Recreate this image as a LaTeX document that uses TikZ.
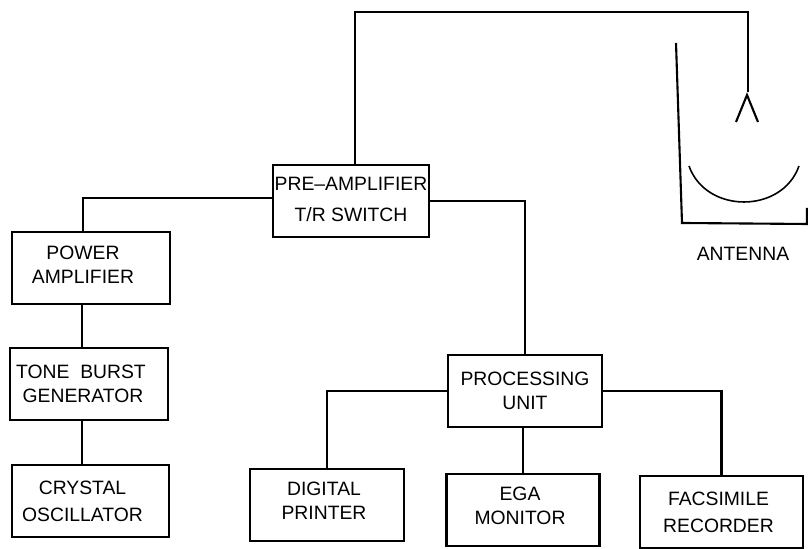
\documentclass[tikz,border=0pt]{standalone}
\usepackage{fontspec}
\setmainfont{Liberation Sans}
\usepackage{tikz}
\usetikzlibrary{
	positioning,
	calc
}
\tikzset{
	unit/.style={draw,line width=1.2pt,inner sep=0pt,align=center,minimum height=1.44cm,font=\fontsize{11}{13.4}\selectfont},
	wire/.style={line width=1.2pt}
}
\newcommand{\nudge}[1]{\hspace*{#1}}

\begin{document}
\begin{tikzpicture}[scale=1]
		
		\useasboundingbox (0,0) rectangle (16.16,10.98);
		
		%---------------- Transmit chain ----------------%
		
		\node[unit,minimum width=3.12cm,text depth=0.06cm] (pre) at (7.02,6.96)
		{PRE--AMPLIFIER\\[4pt]T/R SWITCH};
		
		\node[unit,minimum width=3.16cm,text depth=0.14cm] (power) at (1.82,5.62)
		{POWER\nudge{.32cm}\\AMPLIFIER\nudge{.32cm}};
		
		\node[unit,minimum width=3.16cm] (tone) at (1.78,3.30)
		{TONE\ \ BURST\nudge{.32cm}\\GENERATOR\nudge{.24cm}};
		
		\node[unit,minimum width=3.14cm] (crystal) at (1.81,0.96)
		{CRYSTAL\nudge{.32cm}\\[2pt]OSCILLATOR\nudge{.32cm}};
		
		\coordinate (pwrcorner) at (1.66,7.02);
		\coordinate (txline) at (1.64,0);
		
		\draw[wire] (pre.west |- pwrcorner)--(pwrcorner)--(power.north -| pwrcorner);
		\draw[wire] (power.south -| txline)--(tone.north -| txline);
		\draw[wire] (tone.south -| txline)--(crystal.north -| txline);
		
		%---------------- Processing ----------------%
		
		\node[unit,minimum width=3.08cm] (proc) at (10.50,3.16)
		{PROCESSING\\UNIT};
		
		\node[unit,minimum width=3.08cm,text depth=0.16cm] (digital) at (6.54,0.88)
		{DIGITAL\nudge{.12cm}\\PRINTER\nudge{.12cm}};
		
		\node[unit,minimum width=3.06cm,text depth=0.16cm] (ega) at (10.46,0.78)
		{EGA\nudge{.12cm}\\MONITOR\nudge{.12cm}};
		
		\node[unit,minimum width=3.26cm] (facs) at (14.43,0.74)
		{FACSIMILE\nudge{.12cm}\\[2pt]RECORDER\nudge{.12cm}};
		
		\draw[wire] (pre.east) -| (proc.north);
		\draw[wire] (proc.west) -| (digital.north);
		\draw[wire] (proc.south -| ega.north)--(ega.north);
		\draw[wire] (proc.east) -| (facs.north);
		
		%---------------- Antenna ----------------%
		
		\coordinate (feedtop) at (7.10,10.74);
		\coordinate (hornapex) at (14.96,9.14);
		
		\draw[wire] (pre.north -| feedtop)--(feedtop) -| (hornapex);
		\draw[wire] (14.72,8.54)--(14.94,9.08)--(15.16,8.54);
		
		\draw[line width=0.9pt] (13.78,7.66) .. controls (14.12,6.70) and (15.64,6.70) .. (15.98,7.66);
		\draw[wire] (13.52,10.12)--(13.64,6.52)--(16.14,6.50)--(16.14,6.82);
		
		\node[font=\fontsize{11}{13.4}\selectfont] (antlabel) at (14.86,5.90)
		{ANTENNA};
		
	\end{tikzpicture}
\end{document}
